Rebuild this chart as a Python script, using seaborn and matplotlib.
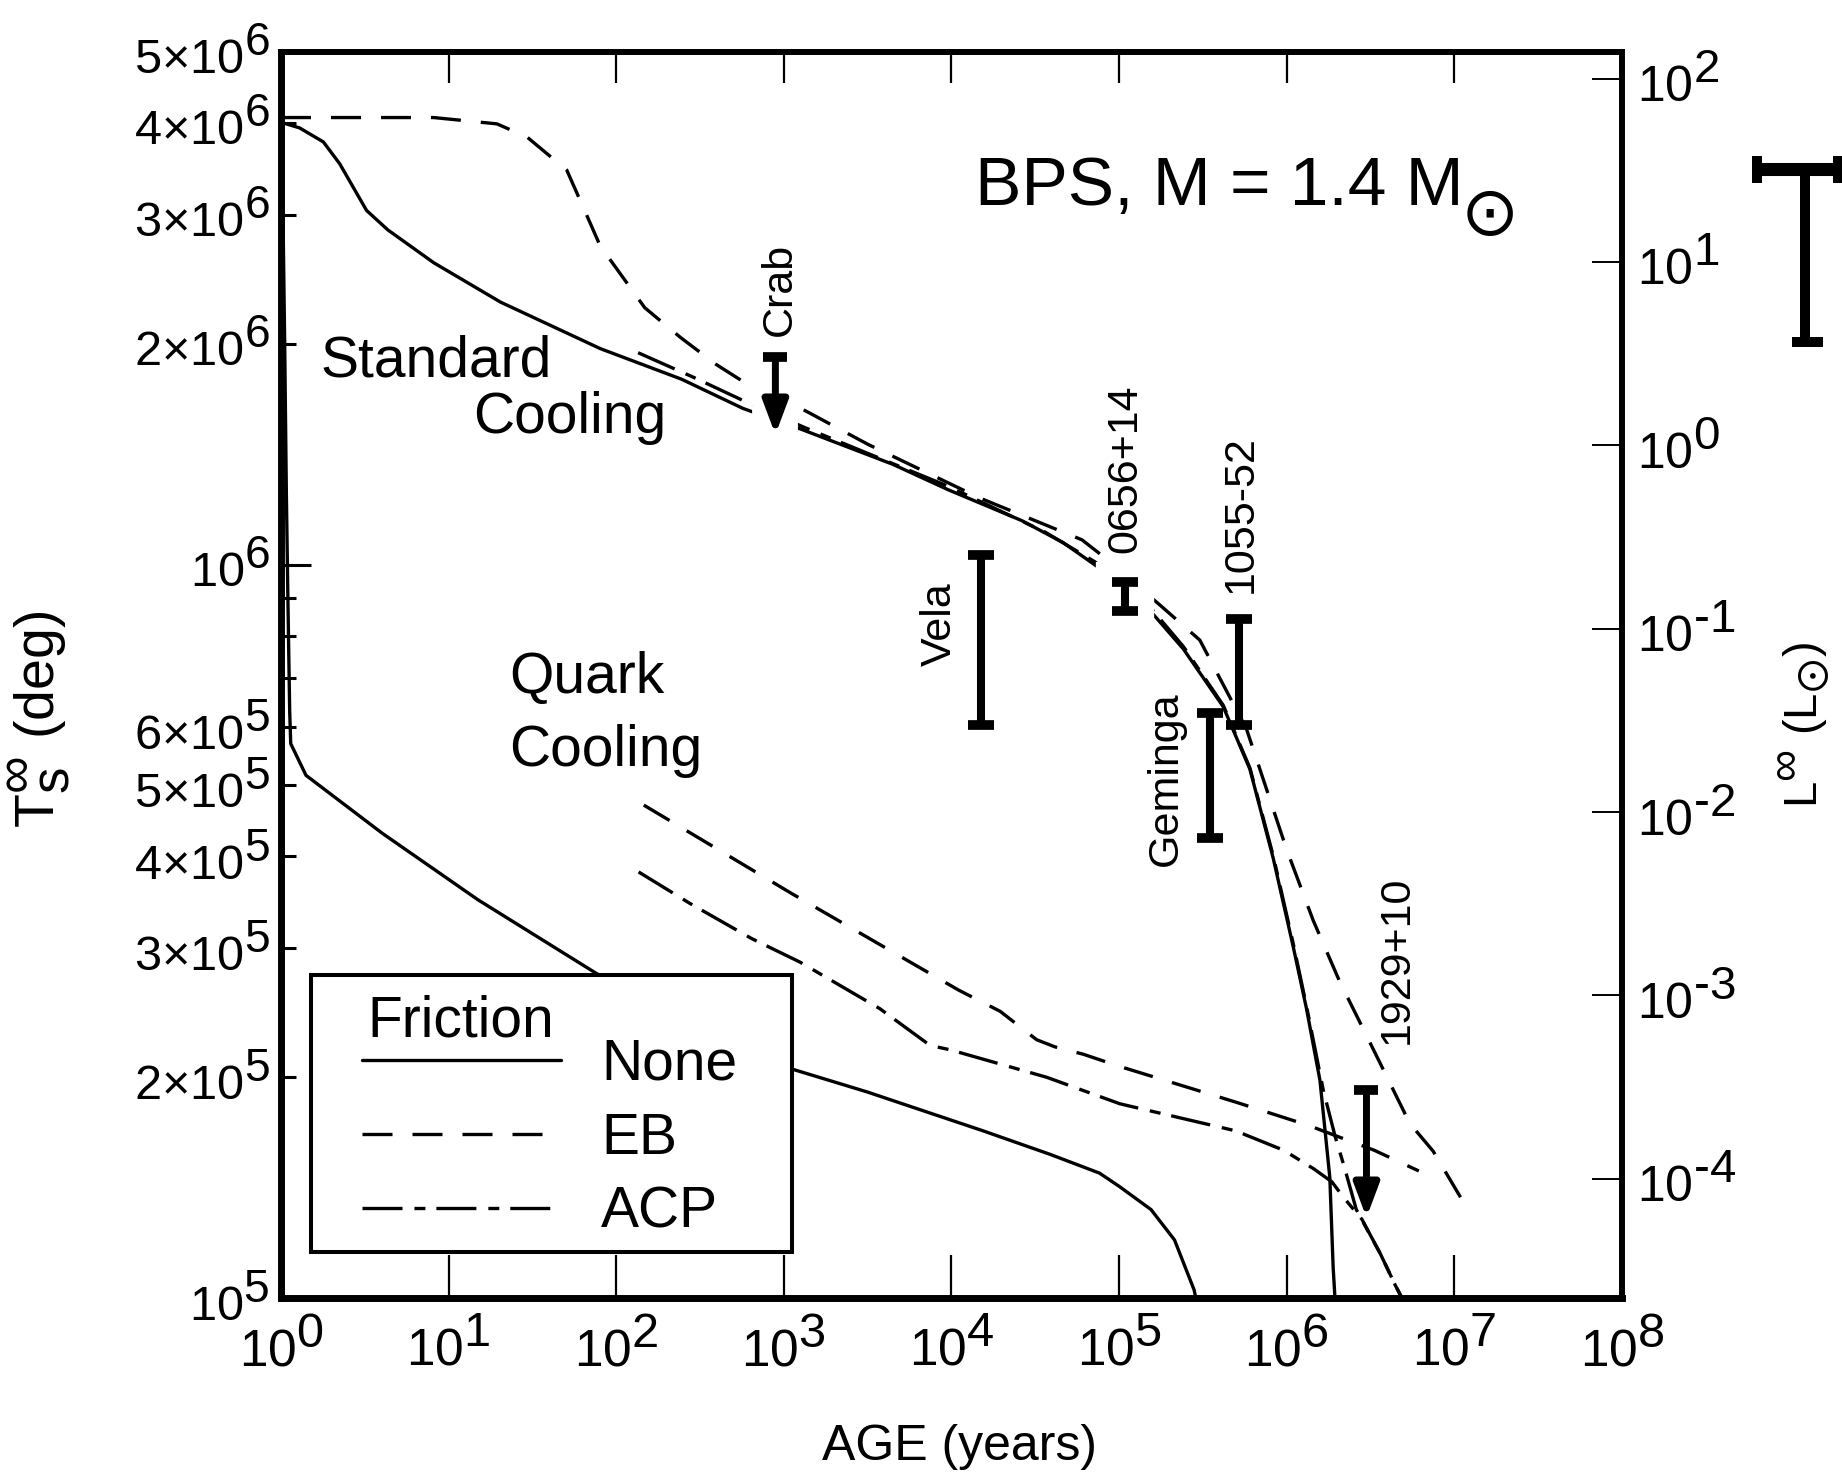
import numpy as np
import pandas as pd
import matplotlib
matplotlib.use("Agg")
import matplotlib.pyplot as plt
import matplotlib._mathtext as _mt
import seaborn as sns
from matplotlib.lines import Line2D
from matplotlib.patches import Rectangle
from matplotlib.ticker import FixedLocator, NullLocator, NullFormatter

# superscripts in the reference are almost as large as the base text
_mt.SHRINK_FACTOR = 0.95

sns.set_theme(style="white")
plt.rcParams.update({
    "font.family": ["Liberation Sans", "DejaVu Sans"],
    "mathtext.fontset": "custom",
    "mathtext.rm": "Liberation Sans",
    "mathtext.it": "Liberation Sans:italic",
    "mathtext.bf": "Liberation Sans:bold",
    "mathtext.default": "regular",
    "lines.scale_dashes": False,
    "axes.edgecolor": "black",
    "text.color": "black",
    "axes.labelcolor": "black",
    "xtick.color": "black",
    "ytick.color": "black",
})

# ---------------- data (age in years, surface temperature in K) ----------------
std_none_age = [1.0, 1.29, 1.79, 2.24, 3.24, 4.34, 8.15, 20.4, 80.4, 245, 570, 1265, 4470, 9550,
                2.63e4, 4.62e4, 7.4e4, 1.43e5, 2.42e5, 4.18e5, 6.03e5, 8.30e5, 1.094e6, 1.312e6,
                1.578e6, 1.807e6, 1.892e6, 1.96e6]
std_none_T = [4.01e6, 3.94e6, 3.77e6, 3.52e6, 3.04e6, 2.86e6, 2.58e6, 2.28e6, 1.97e6, 1.79e6,
              1.633e6, 1.53e6, 1.37e6, 1.265e6, 1.148e6, 1.072e6, 9.94e5, 8.81e5, 7.67e5, 6.40e5,
              5.26e5, 3.98e5, 3.01e5, 2.48e5, 1.98e5, 1.46e5, 1.10e5, 9.6e4]

std_eb_age = [1.0, 8.13, 19.4, 29.3, 50.7, 70.0, 80.2, 148, 242, 394, 644, 1265, 3170, 1.47e4,
              6.0e4, 8.83e4, 1.32e5, 1.75e5, 3.03e5, 5.75e5, 9.98e5, 1.44e6, 2.07e6, 2.99e6,
              5.42e6, 7.48e6, 1.18e7]
std_eb_T = [4.07e6, 4.07e6, 3.99e6, 3.83e6, 3.45e6, 2.92e6, 2.72e6, 2.24e6, 2.04e6, 1.875e6,
            1.746e6, 1.633e6, 1.459e6, 1.233e6, 1.081e6, 1.009e6, 9.31e5, 8.81e5, 7.89e5,
            5.97e5, 4.09e5, 3.27e5, 2.70e5, 2.28e5, 1.73e5, 1.585e5, 1.33e5]

std_acp_age = [135, 290, 607, 1330, 9530, 3.63e4, 7.16e4, 1.43e5, 2.42e5, 4.18e5, 6.03e5, 8.30e5,
               1.094e6, 1.312e6, 1.652e6, 1.945e6, 2.203e6, 2.60e6, 3.61e6, 4.45e6, 5.1e6]
std_acp_T = [1.945e6, 1.80e6, 1.663e6, 1.538e6, 1.279e6, 1.107e6, 1.009e6, 8.91e5, 7.73e5,
             6.43e5, 5.28e5, 4.01e5, 3.04e5, 2.50e5, 1.92e5, 1.66e5, 1.51e5, 1.32e5, 1.15e5,
             1.04e5, 9.8e4]

qrk_none_age = [1.0, 1.028, 1.052, 1.076, 1.10, 1.127, 1.143, 1.41, 4.03, 15.0, 76.2, 338, 1133,
                3133, 1.545e4, 3.87e4, 7.64e4, 1.0e5, 1.55e5, 2.14e5, 2.80e5, 2.95e5]
qrk_none_T = [4.0e6, 2.98e6, 2.0e6, 1.26e6, 8.9e5, 6.3e5, 5.70e5, 5.16e5, 4.30e5, 3.49e5, 2.77e5,
              2.33e5, 2.05e5, 1.91e5, 1.69e5, 1.57e5, 1.48e5, 1.42e5, 1.32e5, 1.20e5, 1.026e5,
              9.7e4]

qrk_eb_age = [146, 1114, 3500, 1.10e4, 1.95e4, 3.22e4, 4.14e4, 6.10e4, 1.0e5, 4.95e5, 1.34e6,
              3.33e6, 6.14e6]
qrk_eb_T = [4.70e5, 3.56e5, 3.06e5, 2.63e5, 2.46e5, 2.25e5, 2.20e5, 2.15e5, 2.07e5, 1.85e5,
            1.72e5, 1.59e5, 1.49e5]

qrk_acp_age = [136, 276, 644, 1250, 3740, 7450, 9800, 3.69e4, 1.01e5, 4.96e5, 9.6e5, 1.45e6,
               1.86e6, 2.19e6, 2.81e6, 3.61e6, 4.45e6, 5.1e6]
qrk_acp_T = [3.81e5, 3.45e5, 3.09e5, 2.87e5, 2.48e5, 2.21e5, 2.18e5, 2.00e5, 1.84e5, 1.69e5,
             1.59e5, 1.50e5, 1.44e5, 1.37e5, 1.28e5, 1.15e5, 1.04e5, 9.8e4]

# observed pulsars
obs_names = ["Crab", "Vela", "0656+14", "Geminga", "1055-52", "1929+10"]
obs_age = [890, 1.5e4, 1.09e5, 3.48e5, 5.2e5, 2.99e6]
obs_T_hi = [1.92e6, 1.03e6, 9.48e5, 6.27e5, 8.43e5, 1.92e5]
obs_T_lo = [1.504e6, 6.04e5, 8.65e5, 4.24e5, 6.04e5, 1.287e5]
obs_upper = [True, False, False, False, False, True]
lbl_age = [942, 8530, 1.09e5, 1.89e5, 5.31e5, 4.54e6]
lbl_T = [2.05e6, 8.29e5, 1.037e6, 5.11e5, 9.14e5, 2.22e5]
lbl_va = ["bottom", "center", "bottom", "center", "bottom", "bottom"]

# luminosity scale: L = (T / T_at_1Lsun)^4
T_at_1Lsun = 1.454e6
side_L = [3.66, 32.0]

x_ticks = [1e0, 1e1, 1e2, 1e3, 1e4, 1e5, 1e6, 1e7, 1e8]
x_labels = [r"10$^{%d}$" % i for i in range(9)]
y_ticks = [1e5, 2e5, 3e5, 4e5, 5e5, 6e5, 1e6, 2e6, 3e6, 4e6, 5e6]
y_labels = [r"10$^{5}$", r"2×10$^{5}$", r"3×10$^{5}$", r"4×10$^{5}$", r"5×10$^{5}$",
            r"6×10$^{5}$", r"10$^{6}$", r"2×10$^{6}$", r"3×10$^{6}$", r"4×10$^{6}$",
            r"5×10$^{6}$"]
y_minor = [7e5, 8e5, 9e5]
L_ticks = [1e-4, 1e-3, 1e-2, 1e-1, 1e0, 1e1, 1e2]
L_labels = ["10$^{\u20104}$", "10$^{\u20103}$", "10$^{\u20102}$", "10$^{\u20101}$",
            r"10$^{0}$", r"10$^{1}$", r"10$^{2}$"]

frictions = ["None", "EB", "ACP"]
dash_map = {"None": "", "EB": (21.6, 14.4), "ACP": (28.8, 8.6, 7.9, 7.9)}

curves = [
    ("standard", "None", std_none_age, std_none_T),
    ("standard", "EB", std_eb_age, std_eb_T),
    ("standard", "ACP", std_acp_age, std_acp_T),
    ("quark", "None", qrk_none_age, qrk_none_T),
    ("quark", "EB", qrk_eb_age, qrk_eb_T),
    ("quark", "ACP", qrk_acp_age, qrk_acp_T),
]
df = pd.concat([pd.DataFrame({"age": a, "T": t, "friction": f, "model": c + "-" + f})
                for c, f, a, t in curves], ignore_index=True)

# ---------------- figure ----------------
fig = plt.figure(figsize=(18.42, 14.76), dpi=100)
ax = fig.add_axes([0.15255, 0.12060, 0.72801, 0.84417])
ax.set_xscale("log")
ax.set_yscale("log")
ax.set_xlim(1, 1e8)
ax.set_ylim(1e5, 5e6)

LW = 2.4
sns.lineplot(data=df, x="age", y="T", style="friction", style_order=frictions,
             units="model", estimator=None, sort=False, dashes=dash_map,
             color="black", lw=LW, legend=False, ax=ax, zorder=2)

# white gaps in the curves around two markers (as in the original)
ax.vlines(obs_age[0], obs_T_lo[0] * 0.97, obs_T_hi[0], color="white", lw=33, zorder=3)
ax.vlines(obs_age[2], 8.34e5, 1.009e6, color="white", lw=42, zorder=3)

# observations
for name, a, hi, lo, up in zip(obs_names, obs_age, obs_T_hi, obs_T_lo, obs_upper):
    if up:
        ax.annotate("", xy=(a, lo), xytext=(a, hi),
                    arrowprops=dict(arrowstyle="-|>,head_length=0.8,head_width=0.3",
                                    mutation_scale=25, lw=5, color="black",
                                    shrinkA=0, shrinkB=0),
                    zorder=4)
        ax.plot([a], [hi], marker="_", ms=17, mew=7, color="black", zorder=4)
    else:
        mid = np.sqrt(hi * lo)
        ax.errorbar([a], [mid], yerr=[[mid - lo], [hi - mid]], fmt="none", ecolor="black",
                    elinewidth=5.8, capsize=9.7, capthick=7, zorder=4)

for name, a, t, va in zip(obs_names, lbl_age, lbl_T, lbl_va):
    ax.text(a, t, name, rotation=90, ha="center", va=va, fontsize=31, zorder=5)

# ---------------- axes styling ----------------
for side, lw in [("left", 5.0), ("bottom", 5.0), ("top", 4.3), ("right", 4.1)]:
    ax.spines[side].set_linewidth(lw)
    ax.spines[side].set_color("black")

ax.set_xticks(x_ticks, x_labels)
ax.xaxis.set_minor_locator(NullLocator())
ax.tick_params(axis="x", which="major", direction="in", length=31, width=1.6,
               top=True, bottom=True, labelsize=37, pad=15)
for t in ax.xaxis.get_major_ticks():
    t.tick2line.set_markersize(22)

ax.set_yticks(y_ticks, y_labels)
ax.yaxis.set_minor_locator(FixedLocator(y_minor))
ax.yaxis.set_minor_formatter(NullFormatter())
ax.tick_params(axis="y", which="both", direction="in", length=10.8, width=2.2,
               left=True, right=False, labelsize=35, pad=8)
ax.yaxis.get_major_ticks()[y_ticks.index(1e6)].tick1line.set_markersize(21.6)

ax.set_xlabel("AGE (years)", fontsize=36)
ax.xaxis.set_label_coords(0.5063, -0.130)
ax.xaxis.label.set_va("baseline")
ax.set_ylabel(r"$T_{s}^{\infty}$ (deg)", fontsize=40)
ax.yaxis.set_label_coords(-0.1685, 0.4647)
ax.yaxis.label.set_va("baseline")

# right luminosity axis
ax2 = ax.twinx()
ax2.set_yscale("log")
ax2.set_ylim((1e5 / T_at_1Lsun) ** 4, (5e6 / T_at_1Lsun) ** 4)
ax2.set_yticks(L_ticks, L_labels)
ax2.yaxis.set_minor_locator(NullLocator())
ax2.tick_params(axis="y", which="major", direction="in", length=21.6, width=1.4,
                labelsize=36, pad=11)
for side in ["left", "top", "bottom"]:
    ax2.spines[side].set_visible(False)
ax2.spines["right"].set_linewidth(4.1)
ax2.spines["right"].set_color("black")
ax2.set_ylabel(r"$L^{\infty}$ ($L_{\odot}$)", fontsize=34, rotation=90)
ax2.yaxis.set_label_coords(1.1462, 0.460)
ax2.yaxis.label.set_va("baseline")
ax2.grid(False)

# ---------------- annotations ----------------
ax.text(0.0291, 0.7392, "Standard", transform=ax.transAxes, fontsize=41, va="baseline")
ax.text(0.1432, 0.6942, "Cooling", transform=ax.transAxes, fontsize=41, va="baseline")
ax.text(0.1700, 0.4856, "Quark", transform=ax.transAxes, fontsize=41, va="baseline")
ax.text(0.1700, 0.4270, "Cooling", transform=ax.transAxes, fontsize=41, va="baseline")
ax.text(0.5175, 0.8772, "BPS, M = 1.4 M", transform=ax.transAxes, fontsize=50, va="baseline")
ax.text(0.9016, 0.8531, "⊙", transform=ax.transAxes, fontsize=50, ha="center", va="baseline",
        family="DejaVu Sans")

# legend
ax.add_patch(Rectangle((0.02237, 0.03692), 0.35869, 0.22231, transform=ax.transAxes,
                       facecolor="white", edgecolor="black", lw=2.9, zorder=5))
ax.text(0.0641, 0.2095, "Friction", transform=ax.transAxes, fontsize=41, va="baseline", zorder=6)
handles = [Line2D([], [], color="black", lw=LW,
                  linestyle="-" if dash_map[f] == "" else (0, dash_map[f])) for f in frictions]
leg = ax.legend(handles, frictions, loc="upper left", bbox_to_anchor=(0.0604, 0.2087),
                bbox_transform=ax.transAxes, frameon=False, fontsize=41, handlelength=3.5,
                handletextpad=0.7, labelspacing=0.35, borderpad=0, borderaxespad=0)
leg.set_zorder(6)

# partial error bar at the far right edge (luminosity scale)
ax_side = fig.add_axes([1740 / 1842, 0.12060, 102 / 1842, 0.84417])
ax_side.set_yscale("log")
ax_side.set_ylim((1e5 / T_at_1Lsun) ** 4, (5e6 / T_at_1Lsun) ** 4)
ax_side.set_xlim(0, 1)
ax_side.axis("off")
ax_side.vlines(0.637, side_L[0], side_L[1], color="black", lw=7.2, clip_on=False)
ax_side.hlines(side_L[1], 0.118, 1.05, color="black", lw=9.4, clip_on=False)
ax_side.vlines([0.167, 0.96], side_L[1] / 1.19, side_L[1] * 1.19, color="black", lw=7.2,
               clip_on=False)
ax_side.hlines(side_L[0], 0.51, 0.81, color="black", lw=7.2, clip_on=False)

fig.savefig("out.png", dpi=100, facecolor="white")
